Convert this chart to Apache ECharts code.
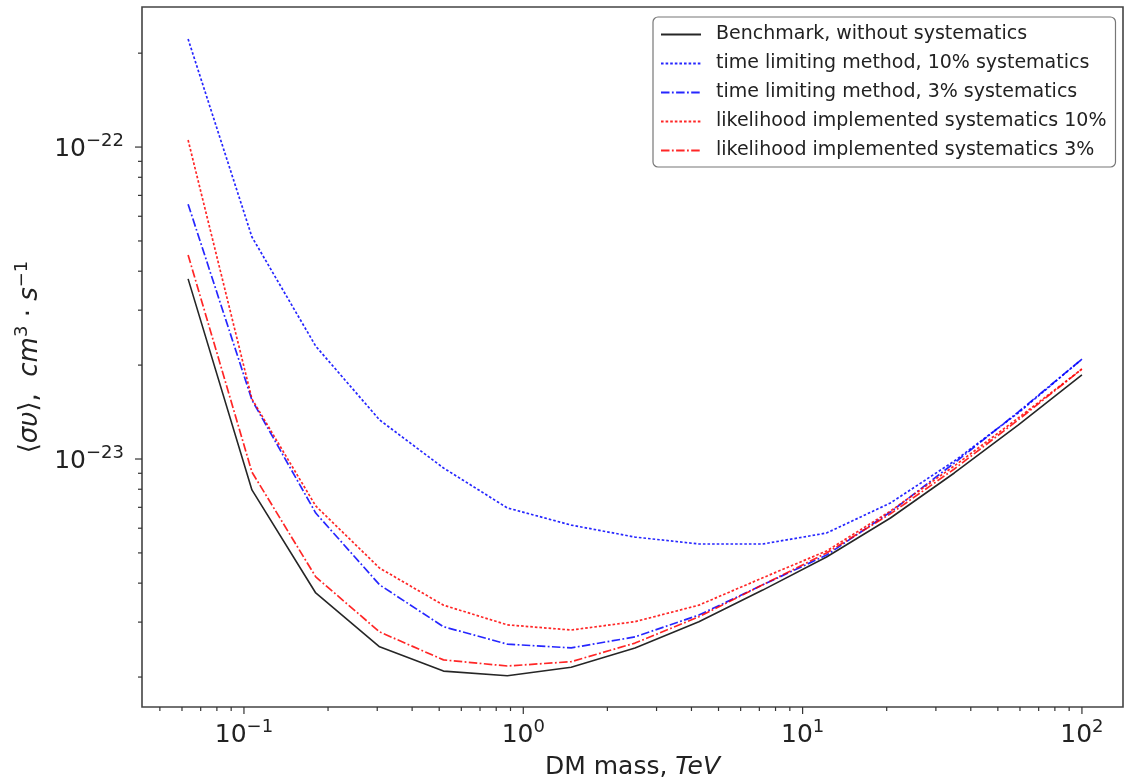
<!DOCTYPE html>
<html><head><meta charset="utf-8">
<script src="https://cdn.jsdelivr.net/npm/echarts@6/dist/echarts.min.js"></script>
<style>html,body{margin:0;padding:0;background:#fff}#c{width:1128px;height:782px}</style>
</head><body><div id="c"></div>
<script>
// DM masses (TeV)
const masses = [0.0631, 0.1068, 0.1807, 0.3059, 0.5179, 0.8766, 1.484, 2.512, 4.252, 7.197, 12.18, 20.63, 34.92, 59.09, 100];
// <sigma v> limits, cm^3 s^-1
const benchmark = [3.78e-23, 7.96e-24, 3.72e-24, 2.50e-24, 2.09e-24, 2.02e-24, 2.15e-24, 2.48e-24, 3.01e-24, 3.80e-24, 4.85e-24, 6.47e-24, 9.02e-24, 1.285e-23, 1.86e-23];
const timeLim10 = [2.22e-22, 5.15e-23, 2.30e-23, 1.334e-23, 9.36e-24, 6.97e-24, 6.14e-24, 5.62e-24, 5.34e-24, 5.34e-24, 5.79e-24, 7.23e-24, 9.85e-24, 1.404e-23, 2.09e-23];
const timeLim3 = [6.56e-23, 1.546e-23, 6.71e-24, 3.95e-24, 2.90e-24, 2.55e-24, 2.48e-24, 2.69e-24, 3.16e-24, 3.95e-24, 4.92e-24, 6.76e-24, 9.71e-24, 1.414e-23, 2.09e-23];
const likeli10 = [1.053e-22, 1.557e-23, 7.07e-24, 4.47e-24, 3.40e-24, 2.94e-24, 2.83e-24, 3.01e-24, 3.40e-24, 4.16e-24, 5.07e-24, 6.81e-24, 9.50e-24, 1.353e-23, 1.943e-23];
const likeli3 = [4.51e-23, 9.08e-24, 4.19e-24, 2.79e-24, 2.27e-24, 2.17e-24, 2.24e-24, 2.57e-24, 3.12e-24, 3.95e-24, 5.00e-24, 6.67e-24, 9.29e-24, 1.334e-23, 1.943e-23];
const seriesNames = ['Benchmark, without systematics', 'time limiting method, 10% systematics', 'time limiting method, 3% systematics', 'likelihood implemented systematics 10%', 'likelihood implemented systematics 3%'];
const xMajorTicks = [0.1, 1, 10, 100];
const yMajorTicks = [1e-23, 1e-22];
const minorMult = [2, 3, 4, 5, 6, 7, 8, 9];
const xDecades = [-2, -1, 0, 1, 2];
const yDecades = [-24, -23, -22];

// y values are plotted in units of 1e-24 (ECharts log axis loses precision near 1e-24)
const Y_EXP = -24, Y_UNIT = 1e-24;
const X_MIN = Math.pow(10, -1.365), X_MAX = Math.pow(10, 2.147);
const Y_MIN = Math.pow(10, -23.795 - Y_EXP), Y_MAX = Math.pow(10, -21.551 - Y_EXP);
const FONT = 'DejaVu Sans';

function pairs(vals) { return masses.map((m, i) => [m, vals[i] / Y_UNIT]); }
function minorTicks(decs, lo, hi, unit) {
  const out = [];
  decs.forEach(k => minorMult.forEach(m => { const v = m * Math.pow(10, k) / unit; if (v > lo && v < hi) out.push(v); }));
  return out;
}
const xTickData = xMajorTicks.map(v => [v, Y_MIN, 1]).concat(minorTicks(xDecades, X_MIN, X_MAX, 1).map(v => [v, Y_MIN, 0]));
const yTickData = yMajorTicks.map(v => [X_MIN, v / Y_UNIT, 1]).concat(minorTicks(yDecades, Y_MIN, Y_MAX, Y_UNIT).map(v => [X_MIN, v, 0]));

function sciLabel(v, off) {
  const e = Math.log10(v), k = Math.round(e);
  if (Math.abs(e - k) > 1e-6) return '';
  const p = k + off;
  return '{b|10}{s|' + (p < 0 ? '\u2212' + (-p) : p) + '}';
}
const labelRich = {
  b: { fontFamily: FONT, fontSize: 25, lineHeight: 30, verticalAlign: 'bottom', color: '#222' },
  s: { fontFamily: FONT, fontSize: 18, lineHeight: 18, verticalAlign: 'top', color: '#222' }
};

function lineSeries(name, vals, color, type, width, opacity) {
  return {
    name, type: 'line', data: pairs(vals), symbol: 'none', showSymbol: false, smooth: false,
    lineStyle: { color, width, type, opacity },
    itemStyle: { color }, emphasis: { disabled: true }, animation: false
  };
}
const DOT = [2.6, 2.0];
const DASHDOT = [8.5, 2.4, 1.8, 2.4];

const tickStyle = { stroke: '#333', lineWidth: 1.2 };
const series = [
  lineSeries(seriesNames[0], benchmark, '#000', 'solid', 1.6, 0.85),
  lineSeries(seriesNames[1], timeLim10, '#0000ff', DOT, 1.7, 0.85),
  lineSeries(seriesNames[2], timeLim3, '#0000ff', DASHDOT, 1.7, 0.85),
  lineSeries(seriesNames[3], likeli10, '#ff0000', DOT, 1.7, 0.85),
  lineSeries(seriesNames[4], likeli3, '#ff0000', DASHDOT, 1.7, 0.85),
  {
    name: 'xticks', type: 'custom', silent: true, clip: false, animation: false, data: xTickData,
    renderItem: (params, api) => {
      const p = api.coord([api.value(0), Y_MIN]);
      const len = api.value(2) ? 7 : 4;
      return { type: 'line', shape: { x1: p[0], y1: p[1], x2: p[0], y2: p[1] + len }, style: tickStyle };
    }
  },
  {
    name: 'yticks', type: 'custom', silent: true, clip: false, animation: false, data: yTickData,
    renderItem: (params, api) => {
      const p = api.coord([X_MIN, api.value(1)]);
      const len = api.value(2) ? 7 : 4;
      return { type: 'line', shape: { x1: p[0], y1: p[1], x2: p[0] - len, y2: p[1] }, style: tickStyle };
    }
  }
];

const chart = echarts.init(document.getElementById('c'), null, { renderer: 'canvas' });
chart.setOption({
  backgroundColor: '#fff',
  animation: false,
  textStyle: { fontFamily: FONT },
  grid: { left: 142, top: 7, width: 981, height: 700, show: true, borderColor: '#444', borderWidth: 1.6, backgroundColor: '#fff', outerBoundsMode: 'none', containLabel: false },
  legend: {
    data: seriesNames, orient: 'vertical', left: 653, top: 17,
    itemWidth: 40, itemHeight: 4, itemGap: 10,
    padding: [8, 9, 7, 7],
    itemStyle: { opacity: 0 },
    backgroundColor: '#fff', borderColor: '#777', borderWidth: 1.2, borderRadius: 5,
    textStyle: { fontFamily: FONT, fontSize: 19, lineHeight: 19, color: '#222', padding: [0, 0, 0, 10] },
    selectedMode: false
  },
  xAxis: {
    type: 'log', logBase: 10, min: X_MIN, max: X_MAX,
    name: '{a|DM mass, }{i|TeV}', nameLocation: 'middle', nameGap: 48,
    nameTextStyle: { rich: {
      a: { fontFamily: FONT, fontSize: 25, color: '#222' },
      i: { fontFamily: FONT, fontSize: 25, fontStyle: 'italic', color: '#222' } } },
    axisLine: { show: false }, axisTick: { show: false }, splitLine: { show: false }, minorTick: { show: false },
    axisLabel: { formatter: v => sciLabel(v, 0), rich: labelRich, margin: 11 }
  },
  yAxis: {
    type: 'log', logBase: 10, min: Y_MIN, max: Y_MAX,
    name: '{a|\u27e8}{i|\u03c3\u03c5}{a|\u27e9,  }{i|cm}{s|3}{a| \u00b7 }{i|s}{s|\u22121}',
    nameLocation: 'middle', nameGap: 99,
    nameTextStyle: { rich: {
      a: { fontFamily: FONT, fontSize: 26, lineHeight: 30, verticalAlign: 'bottom', color: '#222' },
      i: { fontFamily: FONT, fontSize: 26, lineHeight: 30, verticalAlign: 'bottom', fontStyle: 'italic', color: '#222' },
      s: { fontFamily: FONT, fontSize: 18, lineHeight: 18, verticalAlign: 'top', color: '#222' } } },
    axisLine: { show: false }, axisTick: { show: false }, splitLine: { show: false }, minorTick: { show: false },
    axisLabel: { formatter: v => sciLabel(v, Y_EXP), rich: labelRich, margin: 18 }
  },
  series
});
</script></body></html>
